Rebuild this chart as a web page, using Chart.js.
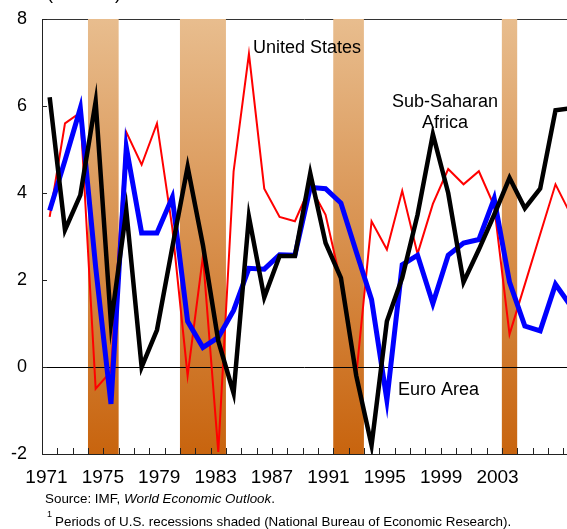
<!DOCTYPE html>
<html>
<head>
<meta charset="utf-8">
<script src="https://cdn.jsdelivr.net/npm/chart.js@4.4.1/dist/chart.umd.min.js"></script>
<style>
  html, body { margin: 0; padding: 0; background: #fff; }
  canvas { display: block; }
</style>
</head>
<body>
<canvas id="myChart" width="567" height="529"></canvas>
<script>
// data, one value per year
var years = [1971,1972,1973,1974,1975,1976,1977,1978,1979,1980,1981,1982,1983,1984,1985,1986,1987,1988,
             1989,1990,1991,1992,1993,1994,1995,1996,1997,1998,1999,2000,2001,2002,2003,2004,2005];
var subSaharan = [6.2,3.15,3.95,6.1,1.0,3.6,0.0,0.85,2.75,4.6,2.8,0.6,-0.6,3.45,1.6,2.55,2.55,4.45,
                  2.85,2.05,-0.2,-1.8,1.05,2.05,3.5,5.35,4.0,1.95,2.7,3.5,4.35,3.65,4.1,5.9,5.95];
var unitedStates = [3.45,5.6,5.85,-0.5,-0.1,5.4,4.65,5.6,3.2,-0.2,2.55,-1.95,4.5,7.2,4.1,3.45,3.35,4.15,
                    3.5,1.95,-0.2,3.35,2.7,4.05,2.6,3.75,4.55,4.2,4.5,3.7,0.75,1.9,3.05,4.2,3.5];
var euroArea = [3.6,4.75,5.95,2.3,-0.85,5.05,3.08,3.08,3.9,1.05,0.45,0.68,1.3,2.27,2.25,2.58,2.57,4.13,
                4.1,3.77,2.65,1.55,-0.76,2.35,2.57,1.46,2.57,2.85,2.93,3.87,1.95,0.94,0.83,1.9,1.4];

// tick labels
var yearLabels = [1971,1975,1979,1983,1987,1991,1995,1999,2003];
var yTicks = [-2,0,2,4,6,8];

// US recessions (first year, last year)
var recessions = [[1974,1975],[1980,1982],[1990,1991],[2001,2001]];

var FONT = '"Liberation Sans", Arial, sans-serif';

function pairs(vals) {
  return vals.map(function (v, i) { return {x: years[i], y: v}; });
}

// shaded bands, frame and ticks, then the text notes
var decor = {
  id: 'decor',
  beforeDatasetsDraw: function (chart) {
    var ctx = chart.ctx, a = chart.chartArea, x = chart.scales.x, y = chart.scales.y;
    ctx.save();
    ctx.lineWidth = 1;
    ctx.strokeStyle = '#333';
    ctx.beginPath();
    ctx.moveTo(a.left, a.top + 0.5); ctx.lineTo(a.right, a.top + 0.5);
    ctx.stroke();

    var g = ctx.createLinearGradient(0, a.top, 0, a.bottom);
    g.addColorStop(0, '#E8BD8E');
    g.addColorStop(1, '#C8640E');
    ctx.fillStyle = g;
    recessions.forEach(function (r) {
      var x0 = x.getPixelForValue(r[0] - 0.5), x1 = x.getPixelForValue(r[1] + 0.5);
      ctx.fillRect(x0, a.top, x1 - x0, a.bottom - a.top);
    });

    ctx.strokeStyle = '#000';
    var y0 = Math.round(y.getPixelForValue(0)) + 0.5;
    ctx.beginPath();
    ctx.moveTo(a.left, y0); ctx.lineTo(a.right, y0);
    ctx.stroke();

    ctx.strokeStyle = '#222';
    ctx.beginPath();
    ctx.moveTo(a.left + 0.5, a.top); ctx.lineTo(a.left + 0.5, a.bottom + 0.5);
    ctx.lineTo(a.right, a.bottom + 0.5);
    // year ticks on the bottom axis
    for (var t = years[0] - 0.5; t <= x.max; t += 1) {
      var px = Math.round(x.getPixelForValue(t)) + 0.5;
      ctx.moveTo(px, a.bottom); ctx.lineTo(px, a.bottom - 6);
    }
    yTicks.forEach(function (v) {
      var py = Math.round(y.getPixelForValue(v)) + 0.5;
      ctx.moveTo(a.left, py); ctx.lineTo(a.left + 5, py);
    });
    ctx.stroke();
    ctx.restore();
  },
  afterDraw: function (chart) {
    var ctx = chart.ctx;
    ctx.save();
    ctx.fillStyle = '#000';
    ctx.font = '18px ' + FONT;
    ctx.textBaseline = 'alphabetic';
    ctx.textAlign = 'left';
    ctx.fillText('(Percent)', 47, -1);

    ctx.textBaseline = 'middle';
    ctx.fillText('United States', 253, 48);
    ctx.fillText('Euro Area', 398, 390);
    ctx.textAlign = 'center';
    ctx.fillText('Sub-Saharan', 445, 102);
    ctx.fillText('Africa', 445, 123);

    ctx.textAlign = 'left';
    ctx.font = '13.4px ' + FONT;
    var sx = 45;
    ctx.fillText('Source: IMF, ', sx, 499);
    sx += ctx.measureText('Source: IMF, ').width;
    ctx.font = 'italic 13.4px ' + FONT;
    ctx.fillText('World Economic Outlook', sx, 499);
    sx += ctx.measureText('World Economic Outlook').width;
    ctx.font = '13.4px ' + FONT;
    ctx.fillText('.', sx, 499);

    ctx.font = '9px ' + FONT;
    ctx.fillText('1', 47, 515);
    ctx.font = '13.4px ' + FONT;
    ctx.fillText('Periods of U.S. recessions shaded (National Bureau of Economic Research).', 55, 522);
    ctx.restore();
  }
};

var ctx = document.getElementById('myChart').getContext('2d');
var myChart = new Chart(ctx, {
  type: 'line',
  data: {
    datasets: [
      { label: 'Sub-Saharan Africa', data: pairs(subSaharan), borderColor: '#000000', borderWidth: 4.5 },
      { label: 'Euro Area', data: pairs(euroArea), borderColor: '#0000FF', borderWidth: 5 },
      { label: 'United States', data: pairs(unitedStates), borderColor: '#FF0000', borderWidth: 2 }
    ]
  },
  options: {
    responsive: false,
    animation: false,
    layout: { padding: { top: 19, left: 0, right: 0, bottom: 0 } },
    elements: { point: { radius: 0 }, line: { tension: 0, fill: false } },
    plugins: { legend: { display: false }, tooltip: { enabled: false } },
    scales: {
      x: { type: 'linear', display: false, min: 1970.5, max: 2004.75 },
      xl: {
        type: 'linear', position: 'bottom', min: 1970.681, max: 2007.93,
        afterBuildTicks: function (s) { s.ticks = yearLabels.map(function (v) { return {value: v}; }); },
        afterFit: function (s) { s.height = 75; s.paddingLeft = 0; s.paddingRight = 0; },
        grid: { display: false, drawTicks: false },
        border: { display: false },
        ticks: { autoSkip: false, maxRotation: 0, padding: 12, color: '#000',
                 font: { family: FONT, size: 19 }, callback: function (v) { return String(v); } }
      },
      y: {
        type: 'linear', min: -2, max: 8,
        afterBuildTicks: function (s) { s.ticks = yTicks.map(function (v) { return {value: v}; }); },
        afterFit: function (s) { s.width = 42; s.paddingTop = 0; s.paddingBottom = 0; },
        grid: { display: false, drawTicks: false },
        border: { display: false },
        ticks: { padding: 15, color: '#000', font: { family: FONT, size: 18 } }
      }
    }
  },
  plugins: [decor]
});
</script>
</body>
</html>
